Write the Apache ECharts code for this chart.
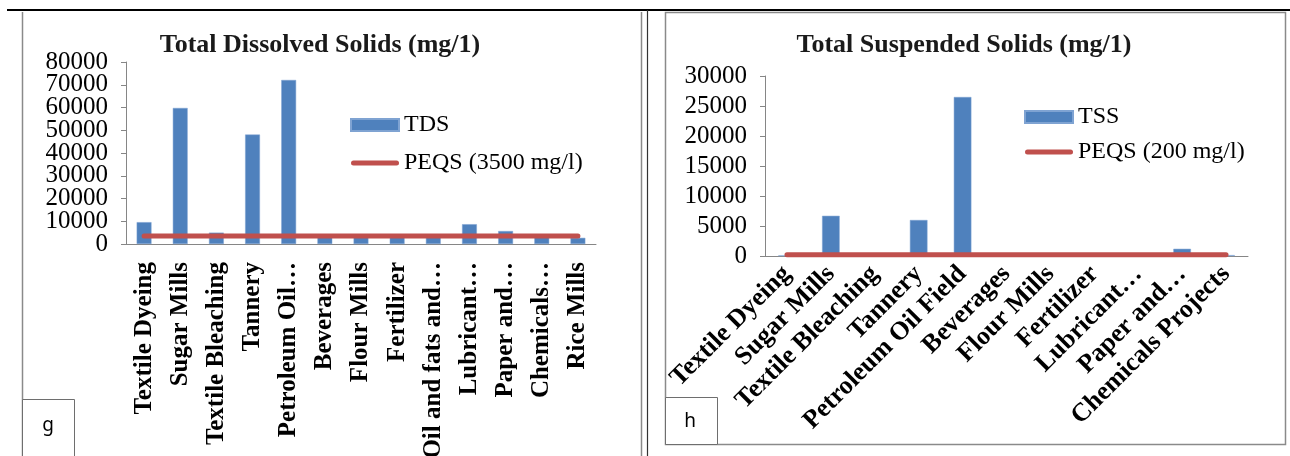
<!DOCTYPE html>
<html>
<head>
<meta charset="utf-8">
<script src="https://cdn.jsdelivr.net/npm/echarts@6/dist/echarts.min.js"></script>
<style>
html,body{margin:0;padding:0;background:#fff;}
#c{width:1290px;height:456px;}
</style>
</head>
<body>
<div id="c"></div>
<script>
// ---- data ----
const tdsCategories = ['Textile Dyeing','Sugar Mills','Textile Bleaching','Tannery','Petroleum Oil…','Beverages','Flour Mills','Fertilizer','Oil and fats and…','Lubricant…','Paper and…','Chemicals…','Rice Mills'];
const tdsValues = [9600, 59800, 5000, 48100, 72100, 3000, 3000, 3000, 3000, 8700, 5700, 3000, 2700];
const tdsLimit = 3500;
const tdsTicks = {min: 0, max: 80000, interval: 10000};
const tdsTickLabelsEven = [0, 20000, 40000, 60000, 80000];
const tdsTickLabelsOdd = [10000, 30000, 50000, 70000];

const tssCategories = ['Textile Dyeing','Sugar Mills','Textile Bleaching','Tannery','Petroleum Oil Field','Beverages','Flour Mills','Fertilizer','Lubricant…','Paper and…','Chemicals Projects'];
const tssValues = [100, 6700, 100, 6000, 26500, 100, 100, 100, 100, 1200, 150];
const tssLimit = 200;
const tssTicks = {min: 0, max: 30000, interval: 5000};

const BLUE = '#4F81BD', RED = '#C0504D', AX = '#868686';
const SERIF = '"Liberation Serif","Times New Roman",serif';
const LINE_ICON = 'path://M2.5,0 L45.5,0 A2.5,2.5 0 0 1 45.5,5 L2.5,5 A2.5,2.5 0 0 1 2.5,0 Z';

const chart = echarts.init(document.getElementById('c'), null, {renderer: 'canvas'});

function xAx(idx, cats, rot, margin, size) {
  return {
    type: 'category', gridIndex: idx, data: cats,
    axisLine: {lineStyle: {color: AX, width: 1}},
    axisTick: {length: 5, lineStyle: {color: AX}},
    axisLabel: {interval: 0, rotate: rot, margin: margin, color: '#000', hideOverlap: false,
      fontFamily: SERIF, fontWeight: 'bold', fontSize: size}
  };
}
function yAx(idx, t, custom, showAxis) {
  const ax = {
    type: 'value', gridIndex: idx, position: 'left', min: t.min, max: t.max, interval: t.interval,
    splitLine: {show: false},
    axisLine: {show: showAxis, lineStyle: {color: AX, width: 1}},
    axisTick: {show: showAxis, length: 5, lineStyle: {color: AX}},
    axisLabel: {margin: 18, color: '#000', fontFamily: SERIF, fontSize: 25,
      hideOverlap: false, formatter: v => String(v)}
  };
  if (custom) ax.axisLabel.customValues = custom;
  return ax;
}
const legendText = {color: '#000', fontFamily: SERIF, fontSize: 24, lineHeight: 24};

chart.setOption({
  animation: false,
  title: [
    {text: 'Total Dissolved Solids (mg/1)', left: 315, top: 27, textAlign: 'center',
     textStyle: {fontFamily: SERIF, fontWeight: 'bold', fontSize: 26, color: '#1a1a1a'}},
    {text: 'Total Suspended Solids (mg/1)', left: 959, top: 27, textAlign: 'center',
     textStyle: {fontFamily: SERIF, fontWeight: 'bold', fontSize: 26, color: '#1a1a1a'}}
  ],
  legend: [
    {data: [{name: 'TDS', icon: 'rect'}, {name: 'PEQS (3500 mg/l)', icon: LINE_ICON}],
     orient: 'vertical', left: 345, top: 108,
     itemWidth: 48, itemHeight: 12, itemGap: 14, textStyle: legendText, selectedMode: false},
    {data: [{name: 'TSS', icon: 'rect'}, {name: 'PEQS (200 mg/l)', icon: LINE_ICON}],
     orient: 'vertical', left: 1019, top: 100,
     itemWidth: 48, itemHeight: 12, itemGap: 11, textStyle: legendText, selectedMode: false}
  ],
  grid: [
    {left: 126, top: 62, width: 470, height: 182, containLabel: false, outerBoundsMode: 'none'},
    {left: 765, top: 76, width: 483, height: 180, containLabel: false, outerBoundsMode: 'none'}
  ],
  xAxis: [xAx(0, tdsCategories, 90, 18, 25), xAx(1, tssCategories, 45, 14, 26)],
  yAxis: [
    yAx(0, tdsTicks, tdsTickLabelsEven, true),
    yAx(1, tssTicks, null, true),
    yAx(0, tdsTicks, tdsTickLabelsOdd, false)
  ],
  series: [
    {name: 'TDS', type: 'bar', xAxisIndex: 0, yAxisIndex: 0, data: tdsValues,
     barCategoryGap: '59%', itemStyle: {color: BLUE, borderColor: '#7FA3D2', borderWidth: 0.5}},
    {name: 'PEQS (3500 mg/l)', type: 'line', xAxisIndex: 0, yAxisIndex: 0,
     data: tdsCategories.map(() => tdsLimit), symbol: 'none', z: 5,
     lineStyle: {color: RED, width: 5, cap: 'round'}, itemStyle: {color: RED}},
    {name: 'TSS', type: 'bar', xAxisIndex: 1, yAxisIndex: 1, data: tssValues,
     barCategoryGap: '60%', itemStyle: {color: BLUE, borderColor: '#7FA3D2', borderWidth: 0.5}},
    {name: 'PEQS (200 mg/l)', type: 'line', xAxisIndex: 1, yAxisIndex: 1,
     data: tssCategories.map(() => tssLimit), symbol: 'none', z: 5,
     lineStyle: {color: RED, width: 5, cap: 'round'}, itemStyle: {color: RED}}
  ],
  graphic: [
    {type: 'line', shape: {x1: 7, y1: 10, x2: 1290, y2: 10}, style: {stroke: '#000', lineWidth: 2}},
    {type: 'line', shape: {x1: 22.5, y1: 12, x2: 22.5, y2: 456}, style: {stroke: '#8a8a8a', lineWidth: 1.5}},
    {type: 'line', shape: {x1: 641.5, y1: 12, x2: 641.5, y2: 456}, style: {stroke: '#8a8a8a', lineWidth: 1.5}},
    {type: 'line', shape: {x1: 647.5, y1: 10, x2: 647.5, y2: 456}, style: {stroke: '#333', lineWidth: 1.2}},
    {type: 'rect', shape: {x: 665.5, y: 12.5, width: 620, height: 432}, style: {fill: 'none', stroke: '#8a8a8a', lineWidth: 1.5}},
    {type: 'rect', shape: {x: 22.5, y: 399.5, width: 52, height: 60}, style: {fill: '#fff', stroke: '#6e6e6e', lineWidth: 1}},
    {type: 'text', x: 48, y: 426, style: {text: 'g', fontFamily: '"Noto Sans",sans-serif', fontSize: 19, fill: '#000', align: 'center', verticalAlign: 'middle'}},
    {type: 'rect', shape: {x: 665.5, y: 397.5, width: 52, height: 47}, style: {fill: '#fff', stroke: '#6e6e6e', lineWidth: 1}},
    {type: 'text', x: 690, y: 422, style: {text: 'h', fontFamily: '"Noto Sans",sans-serif', fontSize: 19, fill: '#000', align: 'center', verticalAlign: 'middle'}}
  ]
});
</script>
</body>
</html>
